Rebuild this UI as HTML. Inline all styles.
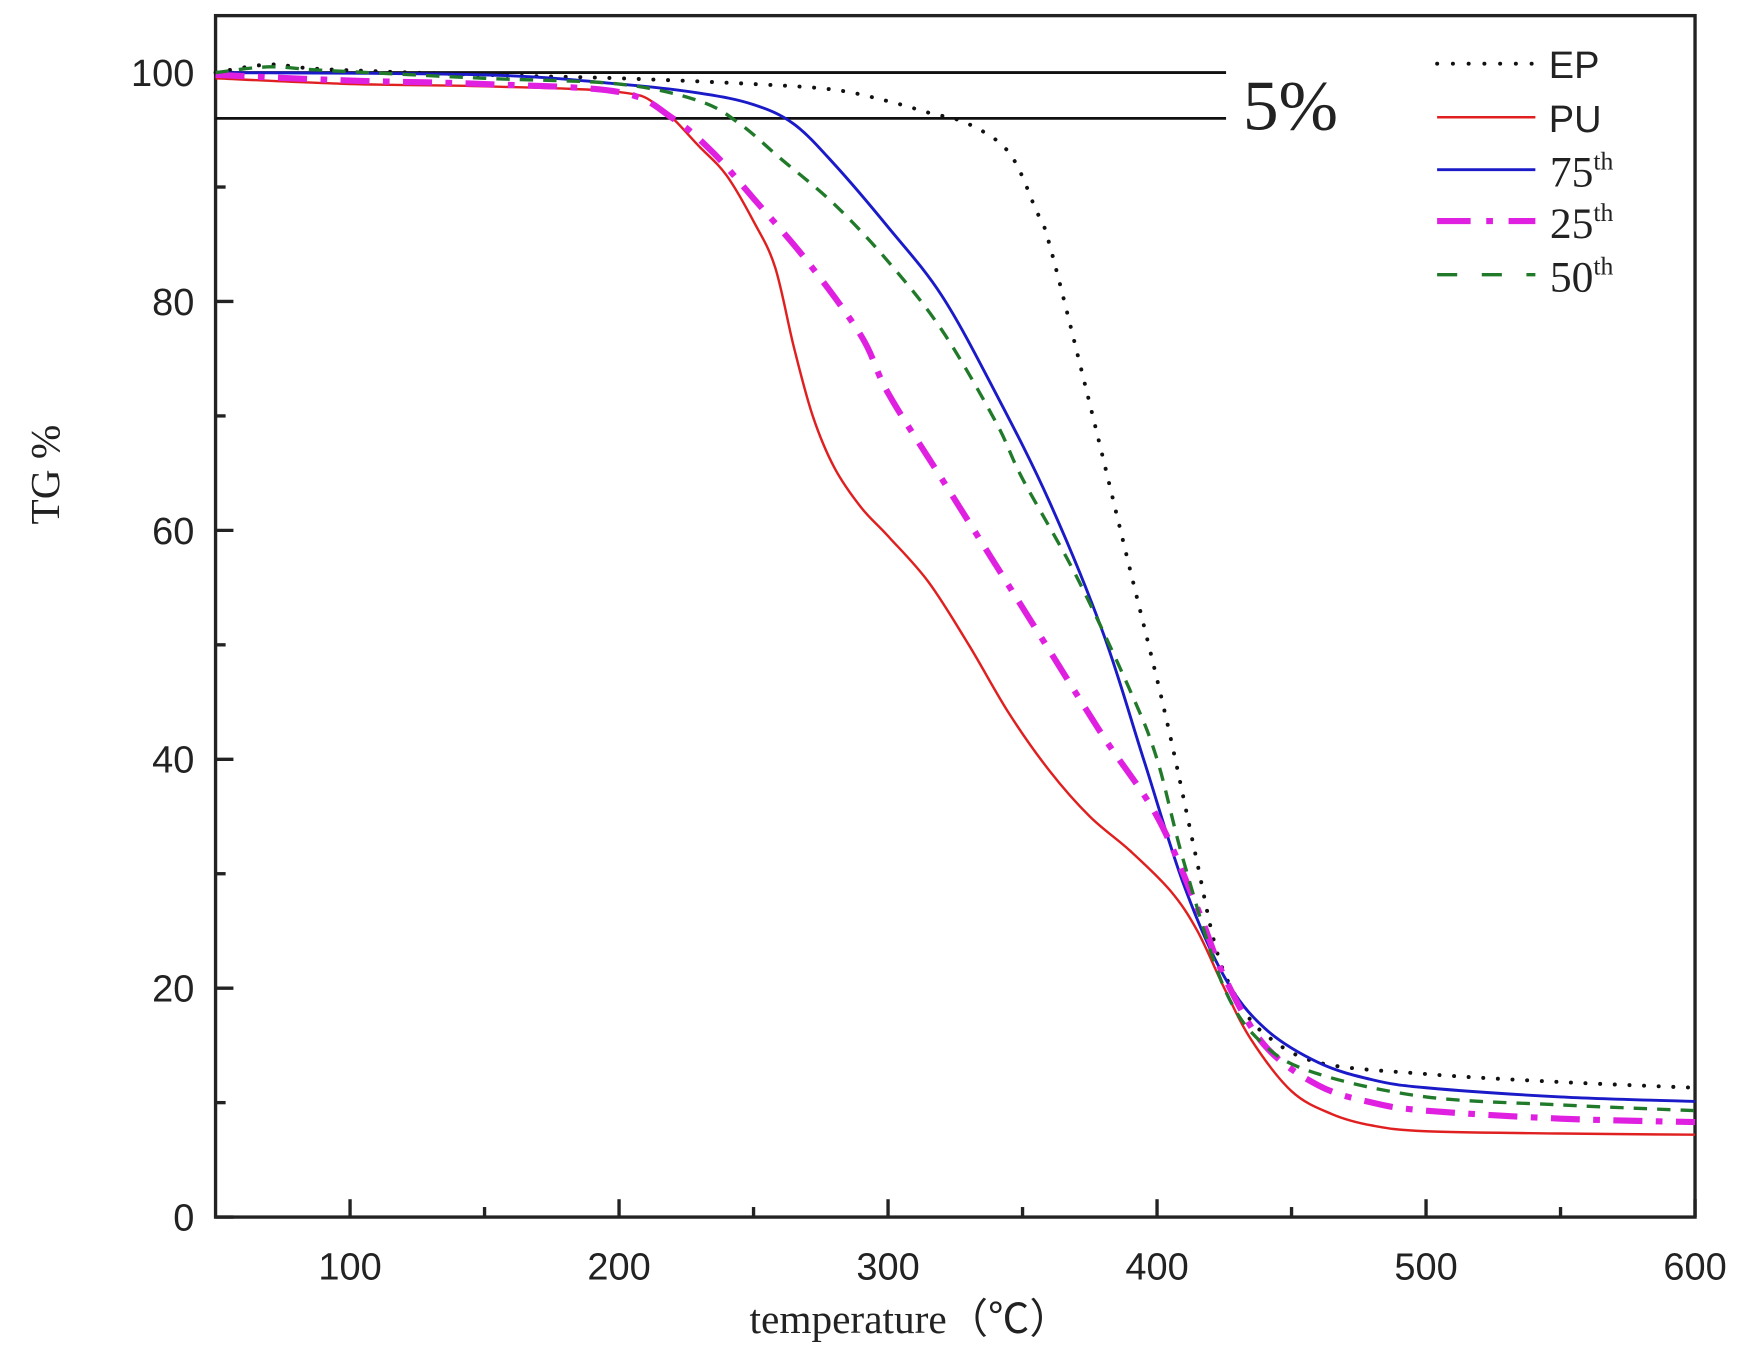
<!DOCTYPE html>
<html><head><meta charset="utf-8"><style>
html,body{margin:0;padding:0;background:#fff;}
svg{display:block;}
.tick{font-family:"Liberation Sans",sans-serif;font-size:34px;fill:#222;}
.serif{font-family:"Liberation Serif",serif;fill:#222;}
</style></head><body>
<svg id="chart" width="1742" height="1360" viewBox="0 0 1560 1218" xmlns="http://www.w3.org/2000/svg">
<g id="plot"></g>
</svg>
<script>
const xTicks=[100,200,300,400,500,600];
const xMinor=[150,250,350,450,550];
const yTicks=[0,20,40,60,80,100];
const yMinor=[10,30,50,70,90];
const seriesNames=["EP","PU","75th","25th","50th"];
const epT=[50,70,90,150,200,250,280,300,315,330,345,355,360,374,389,403,414,422,430,440,460,500,550,600];
const epV=[100,100.7,100.3,99.8,99.5,99,98.5,97.5,96.5,95.5,93,88,85,72,57.5,44,32,23.4,19,16,13.5,12.5,11.8,11.3];
const puT=[50,100,150,200,215,230,240,250,258,265,272,280,290,300,315,330,345,360,375,390,405,415,425,435,450,465,480,500,550,600];
const puV=[99.5,99,98.8,98.3,97,93.5,91,87,83,76,70,65.5,62,59.5,55.5,50,44,39,35,32,28.5,25,20,15.5,11,9,8,7.5,7.3,7.2];
const b75T=[50,150,200,230,250,265,280,300,320,340,360,380,395,410,425,440,460,480,500,550,600];
const b75V=[100,99.8,99,98.2,97.2,95.5,92,86.5,80.5,72,62.5,51,40,29,21,16.5,13.5,12,11.3,10.5,10.1];
const m25T=[50,100,150,200,220,235,250,270,290,300,320,340,360,380,400,415,425,440,460,480,500,550,600];
const m25V=[99.8,99.3,99,98.3,96,93,89,83.5,77,72,64.5,57,49.5,42,35,27,21,15,11.5,10,9.3,8.6,8.3];
const g50T=[50,70,90,150,200,230,245,260,280,300,320,340,350,370,390,400,410,425,440,460,500,550,600];
const g50V=[100,100.5,100.2,99.5,99,97.5,95.5,92.5,88.5,83.5,77.5,69.5,64.5,56,46,40,31,20,15,12.5,10.5,9.8,9.3];

const L=193,R=1518,T=14,B=1090;
const xs=t=>L+(t-50)/550*(R-L);
const ys=v=>B-v/100*(B-65);
const NS="http://www.w3.org/2000/svg";
const g=document.getElementById('plot');
function mk(tag,attrs,parent){const e=document.createElementNS(NS,tag);for(const k in attrs)e.setAttribute(k,attrs[k]);(parent||g).appendChild(e);return e;}
function pathFrom(T_,V_){
  const p=T_.map((t,i)=>[xs(t),ys(V_[i])]);
  let d="M"+p[0][0]+","+p[0][1];
  for(let i=0;i<p.length-1;i++){
    const p0=p[i-1]||p[i],p1=p[i],p2=p[i+1],p3=p[i+2]||p2;
    const c1=[p1[0]+(p2[0]-p0[0])/6,p1[1]+(p2[1]-p0[1])/6];
    const c2=[p2[0]-(p3[0]-p1[0])/6,p2[1]-(p3[1]-p1[1])/6];
    d+=` C${c1[0]},${c1[1]} ${c2[0]},${c2[1]} ${p2[0]},${p2[1]}`;
  }
  return d;
}
let fr=mk('rect',{x:L,y:T,width:R-L,height:B-T,fill:'none',stroke:'#222','stroke-width':3});


xTicks.forEach(t=>{
  let l=mk('line',{x1:xs(t),x2:xs(t),y1:B,y2:B-16,stroke:'#222','stroke-width':3});
  
  
  let tx=mk('text',{x:xs(t),y:B+56,'text-anchor':'middle',class:'tick'});tx.textContent=t;
  
  
});
xMinor.forEach(t=>{
  let l=mk('line',{x1:xs(t),x2:xs(t),y1:B,y2:B-9,stroke:'#222','stroke-width':3});
  
  
});
yTicks.forEach(v=>{
  let l=mk('line',{x1:L,x2:L+16,y1:ys(v),y2:ys(v),stroke:'#222','stroke-width':3});
  
  
  let tx=mk('text',{x:L-19,y:ys(v)+12,'text-anchor':'end',class:'tick'});tx.textContent=v;
  
  
});
yMinor.forEach(v=>{
  let l=mk('line',{x1:L,x2:L+9,y1:ys(v),y2:ys(v),stroke:'#222','stroke-width':3});
  
  
});
[100,96].forEach(v=>{
  let l=mk('line',{x1:L,x2:1098,y1:ys(v),y2:ys(v),stroke:'#111','stroke-width':2.5});
  
  
});
let pct=mk('text',{x:1113,y:116,class:'serif','font-size':64});pct.textContent='5%';



const styles=[
 {T:epT,V:epV,stroke:'#111',w:3.5,dash:'0.1 13',cap:'round',name:'ep-curve'},
 {T:puT,V:puV,stroke:'#e02020',w:2.2,dash:'',cap:'butt',name:'pu-curve'},
 {T:b75T,V:b75V,stroke:'#1a1ac8',w:2.6,dash:'',cap:'butt',name:'75th-curve'},
 {T:m25T,V:m25V,stroke:'#e020e0',w:5.5,dash:'26 12 6 12',cap:'butt',name:'25th-curve'},
 {T:g50T,V:g50V,stroke:'#207a2a',w:3,dash:'12 9',cap:'butt',name:'50th-curve'}
];
styles.forEach(s=>{
  let p=mk('path',{d:pathFrom(s.T,s.V),fill:'none',stroke:s.stroke,'stroke-width':s.w,'stroke-dasharray':s.dash,'stroke-linecap':s.cap});
  
  
});
const legY=[57,105,152,198,246];
styles.forEach((s,i)=>{
  let l=mk('line',{x1:1287,x2:1375,y1:legY[i],y2:legY[i],stroke:s.stroke,'stroke-width':s.w,'stroke-dasharray':i==0?'0.1 14':(i==3?'30 14 6 14':(i==4?'18 22':'')),'stroke-linecap':s.cap});
  
  
  let tx;
  if(i<2){
    tx=mk('text',{x:1387,y:legY[i]+13,class:'tick','font-size':35});tx.textContent=seriesNames[i];
  }else{
    tx=mk('text',{x:1388,y:legY[i]+15,class:'serif','font-size':39});
    tx.textContent=seriesNames[i].slice(0,2);
    const sup=document.createElementNS(NS,'tspan');sup.setAttribute('dy','-15');sup.setAttribute('font-size','23');sup.textContent='th';tx.appendChild(sup);
  }
  
  
});
let xt=mk('text',{x:815,y:1194,'text-anchor':'middle',class:'serif','font-size':37});
xt.textContent='temperature（℃）';
xt.setAttribute('font-family','"Liberation Serif","Noto Serif CJK SC",serif');


let yt=mk('text',{x:0,y:0,'text-anchor':'middle',class:'serif','font-size':37,transform:'translate(53,425) rotate(-90)'});
yt.textContent='TG %';


</script>
</body></html>
